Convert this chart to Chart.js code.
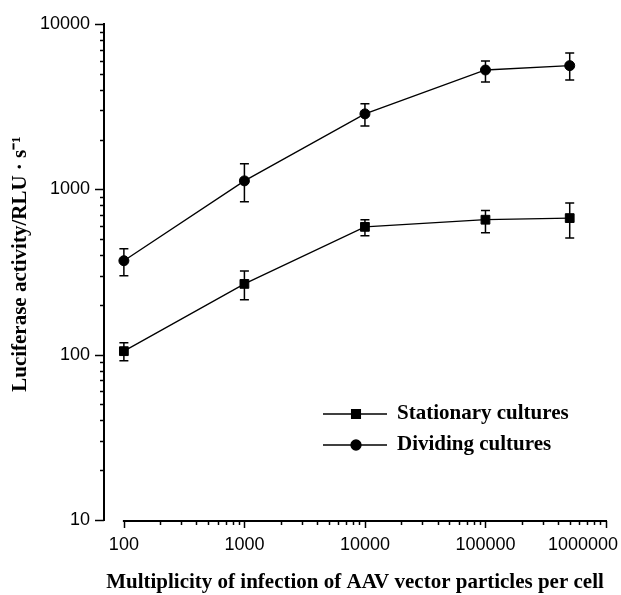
<!DOCTYPE html>
<html>
<head>
<meta charset="utf-8">
<script src="https://cdn.jsdelivr.net/npm/chart.js@4/dist/chart.umd.min.js"></script>
<style>
  body { margin: 0; background: #fff; }
  canvas { display: block; }
</style>
</head>
<body>
<canvas id="chart" width="621" height="595"></canvas>
<script>
// multiplicity of infection (x) and luciferase activity (y)
const moi = [100, 1000, 10000, 100000, 500000];
const stationary = [105, 268, 593, 655, 670];
const stationaryLow = [92, 215, 523, 546, 507];
const stationaryHigh = [118, 321, 655, 745, 828];
const dividing = [370, 1125, 2860, 5270, 5600];
const dividingLow = [300, 840, 2420, 4465, 4590];
const dividingHigh = [437, 1426, 3288, 5975, 6680];

const xTicks = [100, 1000, 10000, 100000, 1000000];
const xTickLabels = ['100', '1000', '10000', '100000', '1000000'];
const yTicks = [10, 100, 1000, 10000];
const yTickLabels = ['10', '100', '1000', '10000'];

const seriesNames = ['Stationary cultures', 'Dividing cultures'];
const xTitle = 'Multiplicity of infection of AAV vector particles per cell';
// leading spaces nudge the rotated title a little upwards
const yTitle = '   Luciferase activity/RLU \u00b7 s\u207b\u00b9';

const serifBold = { family: 'Liberation Serif', size: 21, weight: 'bold' };
const sans = { family: 'Liberation Sans', size: 18 };

function points(ys, lo, hi) {
  return moi.map((x, i) => ({ x: x, y: ys[i], lo: lo[i], hi: hi[i] }));
}

// tick values for a log axis between two decades
function logTicks(from, to) {
  const out = [];
  for (let d = from; d < to; d *= 10) {
    for (let m = 1; m < 10; m++) out.push({ v: m * d, major: m === 1 });
  }
  out.push({ v: to, major: true });
  return out;
}

const errorBars = {
  id: 'errorBars',
  afterDatasetsDraw(chart) {
    const ctx = chart.ctx;
    const xs = chart.scales.x, ys = chart.scales.y;
    ctx.save();
    ctx.strokeStyle = '#000';
    ctx.lineWidth = 1.5;
    chart.data.datasets.forEach(ds => {
      ds.data.forEach(p => {
        const x = xs.getPixelForValue(p.x);
        const y1 = ys.getPixelForValue(p.lo);
        const y2 = ys.getPixelForValue(p.hi);
        ctx.beginPath();
        ctx.moveTo(x, y1); ctx.lineTo(x, y2);
        ctx.moveTo(x - 4.5, y1); ctx.lineTo(x + 4.5, y1);
        ctx.moveTo(x - 4.5, y2); ctx.lineTo(x + 4.5, y2);
        ctx.stroke();
      });
    });
    ctx.restore();
  }
};

const axes = {
  id: 'axes',
  afterDraw(chart) {
    const ctx = chart.ctx;
    const xs = chart.scales.x, ys = chart.scales.y;
    const area = chart.chartArea;
    ctx.save();
    ctx.strokeStyle = '#000';
    ctx.fillStyle = '#000';

    // y axis with ticks pointing left
    ctx.lineWidth = 2;
    ctx.beginPath();
    ctx.moveTo(area.left, ys.getPixelForValue(10000) - 1);
    ctx.lineTo(area.left, ys.getPixelForValue(10) + 1);
    ctx.stroke();
    ctx.lineWidth = 1.5;
    logTicks(10, 10000).forEach(t => {
      const y = Math.round(ys.getPixelForValue(t.v)) + 0.5;
      ctx.beginPath();
      ctx.moveTo(area.left, y);
      ctx.lineTo(area.left - (t.major ? 9 : 4), y);
      ctx.stroke();
    });

    // x axis, starting at the first tick, with ticks pointing down
    const yAxis = area.bottom + 1;
    ctx.lineWidth = 2;
    ctx.beginPath();
    ctx.moveTo(xs.getPixelForValue(100) - 1, yAxis);
    ctx.lineTo(xs.getPixelForValue(1000000) + 1, yAxis);
    ctx.stroke();
    ctx.lineWidth = 1.5;
    logTicks(100, 1000000).forEach(t => {
      const x = Math.round(xs.getPixelForValue(t.v)) + 0.5;
      ctx.beginPath();
      ctx.moveTo(x, yAxis);
      ctx.lineTo(x, yAxis + (t.major ? 7 : 4));
      ctx.stroke();
    });

    // x tick labels, last one kept inside the canvas
    ctx.font = sans.size + 'px ' + sans.family;
    ctx.textBaseline = 'middle';
    ctx.textAlign = 'center';
    xTicks.forEach((v, i) => {
      const w = ctx.measureText(xTickLabels[i]).width;
      let x = xs.getPixelForValue(v);
      if (x + w / 2 > chart.width - 3) x = chart.width - 3 - w / 2;
      ctx.fillText(xTickLabels[i], x, yAxis + 24);
    });
    ctx.restore();
  }
};

const legendBox = {
  id: 'legendBox',
  afterDraw(chart) {
    const ctx = chart.ctx;
    const area = chart.chartArea;
    const x0 = area.left + 219, x1 = area.left + 283, xm = area.left + 252;
    const rows = [area.top + 390, area.top + 421];
    ctx.save();
    ctx.strokeStyle = '#000';
    ctx.fillStyle = '#000';
    chart.data.datasets.forEach((ds, i) => {
      const y = rows[i];
      ctx.lineWidth = 1.3;
      ctx.beginPath();
      ctx.moveTo(x0, y); ctx.lineTo(x1, y);
      ctx.stroke();
      Chart.helpers.drawPoint(ctx, {
        pointStyle: ds.pointStyle, radius: ds.pointRadius, borderWidth: 1, rotation: 0
      }, xm, y);
      ctx.font = 'bold ' + serifBold.size + 'px ' + serifBold.family;
      ctx.textAlign = 'left';
      ctx.textBaseline = 'middle';
      ctx.fillText(ds.label, x1 + 10, y);
    });
    ctx.restore();
  }
};

new Chart(document.getElementById('chart'), {
  type: 'line',
  data: {
    datasets: [{
      label: seriesNames[0],
      data: points(stationary, stationaryLow, stationaryHigh),
      borderColor: '#000',
      backgroundColor: '#000',
      borderWidth: 1.3,
      pointStyle: 'rect',
      pointRadius: 6.2,
      pointBorderWidth: 1,
    }, {
      label: seriesNames[1],
      data: points(dividing, dividingLow, dividingHigh),
      borderColor: '#000',
      backgroundColor: '#000',
      borderWidth: 1.3,
      pointStyle: 'circle',
      pointRadius: 5,
      pointBorderWidth: 1,
    }]
  },
  options: {
    responsive: false,
    animation: false,
    layout: { padding: { top: 24, right: 15, left: 0, bottom: 0 } },
    plugins: { legend: { display: false }, tooltip: { enabled: false } },
    scales: {
      x: {
        type: 'logarithmic',
        min: 68.4,
        max: 1000000,
        grid: { display: false, drawTicks: false },
        border: { display: false },
        ticks: { display: false },
        title: { display: true, text: xTitle, color: '#000', font: serifBold, padding: { top: 0, bottom: 0 } },
        afterBuildTicks(s) { s.ticks = xTicks.map(v => ({ value: v })); },
        afterFit(s) { s.height = 75; s.paddingLeft = 0; s.paddingRight = 0; }
      },
      y: {
        type: 'logarithmic',
        min: 10,
        max: 10000,
        grid: { display: false, drawTicks: false },
        border: { display: false },
        ticks: {
          color: '#000',
          font: sans,
          padding: 14,
          autoSkip: false,
          callback: (v, i) => yTickLabels[i]
        },
        title: { display: true, text: yTitle, color: '#000', font: serifBold, padding: { top: 8, bottom: 0 } },
        afterBuildTicks(s) { s.ticks = yTicks.map(v => ({ value: v })); },
        afterFit(s) { s.width = 104; s.paddingTop = 0; s.paddingBottom = 0; }
      }
    }
  },
  plugins: [errorBars, axes, legendBox]
});
</script>
</body>
</html>
